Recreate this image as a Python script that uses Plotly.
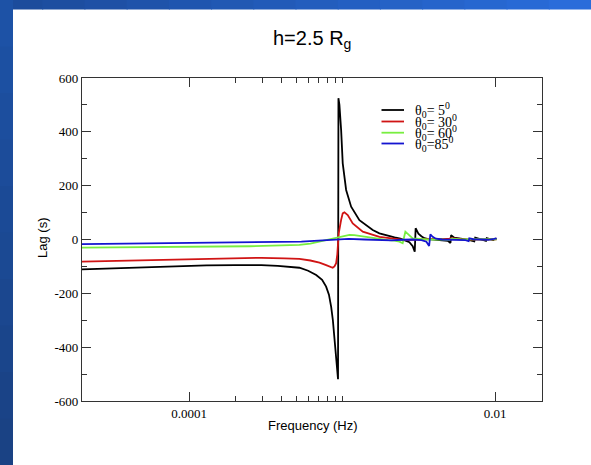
import plotly.graph_objects as go

# ---------------- data ----------------
freq_black = [2.0e-5, 3.0e-5, 4.5e-5, 6.5e-5, 8.9e-5, 1.3e-4, 2.0e-4, 2.97e-4, 3.8e-4, 4.46e-4,
              5.26e-4, 6.0e-4, 6.77e-4, 7.4e-4, 7.86e-4, 8.2e-4, 8.48e-4, 8.7e-4, 8.91e-4, 9.08e-4,
              9.22e-4, 9.40e-4, 9.46e-4, 9.6e-4, 9.85e-4, 1.009e-3, 1.062e-3, 1.145e-3, 1.297e-3, 1.584e-3,
              1.752e-3, 2.0e-3, 2.2e-3, 2.4e-3, 2.6e-3, 2.75e-3, 2.89e-3, 2.98e-3, 3.02e-3, 3.148e-3,
              3.293e-3, 3.445e-3, 3.658e-3, 4.0e-3, 4.5e-3, 4.9e-3, 5.1e-3, 5.15e-3, 5.4e-3, 5.9e-3,
              6.4e-3, 6.9e-3, 7.3e-3, 7.4e-3, 7.9e-3, 8.4e-3, 8.7e-3, 8.8e-3, 9.3e-3, 9.7e-3, 1.0e-2, 1.02e-2]
lag_black = [-111, -108, -104, -100, -98, -96, -95, -95, -98, -101,
             -105, -116, -132, -150, -175, -205, -250, -300, -361, -415,
             -473, -519, 525, 500, 407, 283, 184, 122, 72, 35,
             23, 13, 8, 3, -3, -10, -25, -45, 42, 22,
             12, 5, 1, 0, -2, -5, -13, 16, 7, 2,
             0, -3, -7, 7, 2, -1, -5, 5, 1, -2, 3, 2]

freq_red = [2.0e-5, 4.0e-5, 8.9e-5, 1.5e-4, 2.97e-4, 4.2e-4, 5.26e-4, 6.2e-4, 7.11e-4, 7.86e-4,
            8.48e-4, 8.68e-4, 8.91e-4, 9.14e-4, 9.3e-4, 9.36e-4, 9.5e-4, 9.85e-4, 1.009e-3, 1.035e-3,
            1.062e-3, 1.088e-3, 1.173e-3, 1.364e-3, 1.752e-3, 2.2e-3, 2.6e-3, 3.0e-3, 3.5e-3, 4.0e-3,
            5.0e-3, 5.2e-3, 6.0e-3, 7.0e-3, 8.0e-3, 9.0e-3, 1.02e-2]
lag_red = [-82, -79, -74, -71, -68, -70, -72, -78, -86, -95,
           -103, -105, -100, -88, -55, -27, 23, 73, 97, 101,
           97, 91, 60, 29, 10, 2, -2, 0, 1, 0,
           3, 5, 1, 0, 1, 0, 1]

freq_green = [2.0e-5, 5.0e-5, 8.9e-5, 1.5e-4, 2.5e-4, 3.5e-4, 4.5e-4, 5.26e-4, 6.2e-4, 7.11e-4,
              8.0e-4, 8.68e-4, 9.6e-4, 1.06e-3, 1.116e-3, 1.2e-3, 1.297e-3, 1.5e-3, 1.752e-3, 2.0e-3,
              2.2e-3, 2.366e-3, 2.486e-3, 2.588e-3, 2.889e-3, 3.2e-3, 3.6e-3, 4.5e-3, 5.0e-3, 5.2e-3,
              6.0e-3, 7.0e-3, 8.5e-3, 1.02e-2]
lag_green = [-30, -29, -28, -27, -25, -23, -21, -20, -15, -8,
             -2, 4, 8, 14, 17, 16, 13, 7, 1, -2,
             -4, -8, -14, 29, 4, 1, 0, 0, -2, 3,
             0, 1, 0, 1]

freq_blue = [2.0e-5, 5.0e-5, 8.9e-5, 2.0e-4, 3.5e-4, 5.42e-4, 7.0e-4, 8.5e-4, 9.46e-4, 1.1e-3,
             1.4e-3, 1.752e-3, 2.1e-3, 2.5e-3, 2.9e-3, 3.3e-3, 3.55e-3, 3.70e-3, 3.77e-3, 3.9e-3,
             4.1e-3, 4.5e-3, 5.5e-3, 6.4e-3, 6.7e-3, 6.77e-3, 7.2e-3, 8.0e-3, 9.0e-3, 9.8e-3, 1.02e-2]
lag_blue = [-17, -15, -14, -12, -10, -8, -4, -1, 2, 2,
            0, -3, -3, -1, 0, -2, -8, -24, 19, 10,
            3, 0, 0, -2, -6, 4, 1, 0, -1, 2, 4]

series_names = ["θ<sub>0</sub>= 5<sup>0</sup>", "θ<sub>0</sub>= 30<sup>0</sup>",
                "θ<sub>0</sub>= 60<sup>0</sup>", "θ<sub>0</sub>=85<sup>0</sup>"]
series_colors = ["#000000", "#d01414", "#78ee40", "#1414d0"]

x_tick_vals = [1e-4, 1e-2]
x_tick_text = ["0.0001", "0.01"]
x_minor_vals = [2e-4, 3e-4, 4e-4, 5e-4, 6e-4, 7e-4, 8e-4, 9e-4, 1e-3]
y_tick_vals = [-600, -400, -200, 0, 200, 400, 600]
y_tick_text = ["-600", "-400", "-200", "0", "200", "400", "600"]
y_minor_vals = [-500, -300, -100, 100, 300, 500]

title_text = "h=2.5 R<sub>g</sub>"
x_title = "Frequency (Hz)"
y_title = "Lag (s)"

# ---------------- layout geometry ----------------
W, H = 591, 465
L, R, T, B = 82, 49, 78, 64
PW, PH = W - L - R, H - T - B


def px(x):
    return (x - L) / PW


def py(y):
    return (H - B - y) / PH


fig = go.Figure()
all_x = [freq_black, freq_red, freq_green, freq_blue]
all_y = [lag_black, lag_red, lag_green, lag_blue]
for xs, ys, name, col in zip(all_x, all_y, series_names, series_colors):
    fig.add_trace(go.Scatter(x=xs, y=ys, mode="lines", name=name,
                             line=dict(color=col, width=1.8), showlegend=False))

shapes = []
annotations = []

# slide-like blue border (top gradient strip and left strip)
n_seg = 14
for i in range(n_seg):
    t = i / (n_seg - 1)
    r = int(0x1c + (0x2a - 0x1c) * t)
    g = int(0x4c + (0x6c - 0x4c) * t)
    b = int(0x9c + (0xda - 0x9c) * t)
    x0 = i * W / n_seg
    x1 = (i + 1) * W / n_seg + 1
    shapes.append(dict(type="rect", xref="paper", yref="paper",
                       x0=px(x0), x1=px(x1), y0=py(9.5), y1=py(0),
                       fillcolor=f"rgb({r},{g},{b})", line=dict(width=0), layer="above"))
n_seg_l = 10
for i in range(n_seg_l):
    t = i / (n_seg_l - 1)
    r = int(0x1d + (0x1a - 0x1d) * t)
    g = int(0x52 + (0x42 - 0x52) * t)
    b = int(0xa6 + (0x84 - 0xa6) * t)
    y0 = i * H / n_seg_l
    y1 = (i + 1) * H / n_seg_l + 1
    shapes.append(dict(type="rect", xref="paper", yref="paper",
                       x0=px(0), x1=px(13), y0=py(y1), y1=py(y0),
                       fillcolor=f"rgb({r},{g},{b})", line=dict(width=0), layer="above"))

# legend (drawn manually to mimic compact xmgrace legend)
leg_y = [110, 121.5, 132.7, 143.5]
for yy, name, col in zip(leg_y, series_names, series_colors):
    shapes.append(dict(type="line", xref="paper", yref="paper",
                       x0=px(381.5), x1=px(404), y0=py(yy), y1=py(yy),
                       line=dict(color=col, width=1.8)))
    annotations.append(dict(text=name, xref="paper", yref="paper", x=px(413), y=py(yy),
                            xanchor="left", yanchor="middle", showarrow=False,
                            font=dict(family="Liberation Serif", size=14, color="black")))

# title and axis titles
annotations.append(dict(text=title_text, xref="paper", yref="paper", x=px(312), y=py(40),
                        xanchor="center", yanchor="middle", showarrow=False,
                        font=dict(family="Liberation Sans", size=20, color="black")))
annotations.append(dict(text=x_title, xref="paper", yref="paper", x=px(313), y=py(425.5),
                        xanchor="center", yanchor="middle", showarrow=False,
                        font=dict(family="Liberation Sans", size=13, color="black")))
annotations.append(dict(text=y_title, xref="paper", yref="paper", x=px(43), y=py(238),
                        xanchor="center", yanchor="middle", showarrow=False, textangle=-90,
                        font=dict(family="Liberation Sans", size=13, color="black")))

axis_common = dict(ticks="inside", ticklen=9, tickwidth=1.2, tickcolor="#333",
                   showline=True, linecolor="#333", linewidth=1.3, mirror="ticks",
                   showgrid=False, zeroline=False,
                   tickfont=dict(family="Liberation Serif", size=13, color="black"))

fig.update_layout(
    width=W, height=H, autosize=False,
    margin=dict(l=L, r=R, t=T, b=B, pad=0),
    paper_bgcolor="white", plot_bgcolor="white",
    showlegend=False,
    xaxis=dict(type="log", range=[-4.699, -1.6946], tickmode="array",
               tickvals=x_tick_vals, ticktext=x_tick_text,
               minor=dict(tickvals=x_minor_vals, ticks="inside", ticklen=5,
                          tickwidth=1, tickcolor="#333", showgrid=False),
               **axis_common),
    yaxis=dict(range=[-600, 600], tickmode="array",
               tickvals=y_tick_vals, ticktext=y_tick_text,
               minor=dict(tickvals=y_minor_vals, ticks="inside", ticklen=5,
                          tickwidth=1, tickcolor="#333", showgrid=False),
               **axis_common),
    shapes=shapes,
    annotations=annotations,
)

fig.write_html("out.html")
